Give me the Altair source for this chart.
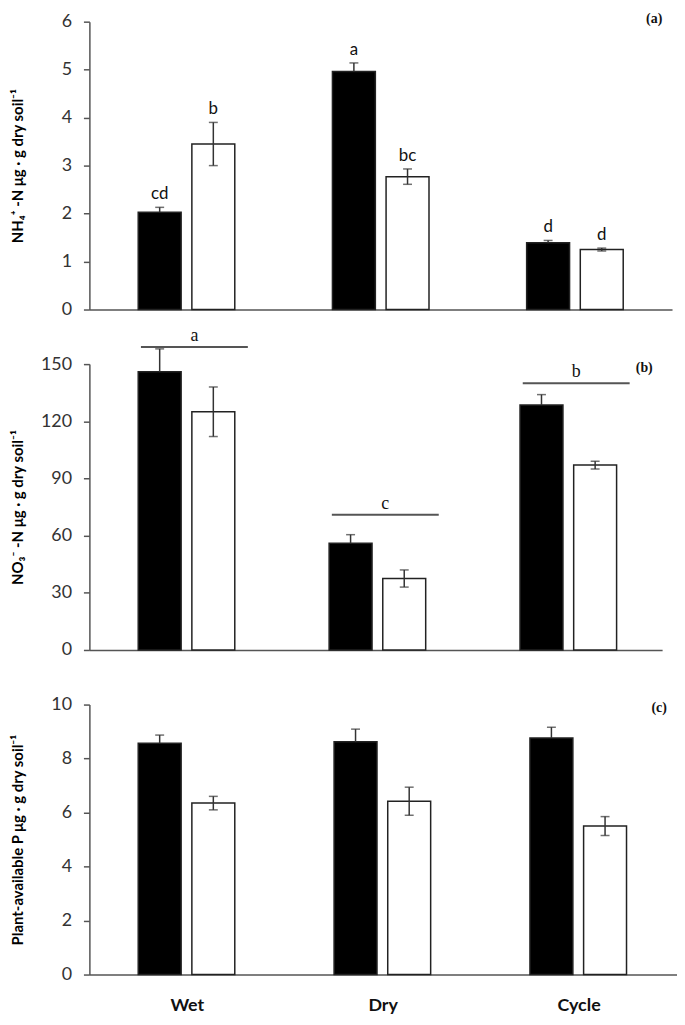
import altair as alt
import pandas as pd

groups = ["Wet", "Dry", "Cycle"]
series = ["Series 1", "Series 2"]

# Panel (a) NH4+-N
nh4_mean = [2.03, 3.45, 4.96, 2.77, 1.39, 1.25]
nh4_err = [0.10, 0.45, 0.18, 0.16, 0.05, 0.03]
nh4_letters = ["cd", "b", "a", "bc", "d", "d"]

# Panel (b) NO3--N
no3_mean = [146.0, 125.0, 56.0, 37.5, 128.5, 97.0]
no3_err = [12.0, 13.0, 4.5, 4.5, 5.5, 2.0]
no3_sig_letters = ["a", "c", "b"]
no3_sig_level = [159.0, 71.0, 140.0]

# Panel (c) plant-available P
p_mean = [8.57, 6.35, 8.62, 6.42, 8.76, 5.50]
p_err = [0.30, 0.25, 0.47, 0.52, 0.40, 0.35]

panel_labels = ["(a)", "(b)", "(c)"]
y_titles = ["NH₄⁺ -N μg · g dry soil⁻¹", "NO₃⁻ -N μg · g dry soil⁻¹",
            "Plant-available P μg · g dry soil⁻¹"]
y_ticks = [[0, 1, 2, 3, 4, 5, 6], [0, 30, 60, 90, 120, 150], [0, 2, 4, 6, 8, 10]]

row_group = [g for g in groups for _ in series]
row_series = series * len(groups)

AXIS_COLOR = "#555555"
LABEL_FONT = "Lato"


def make_df(means, errs, letters=None):
    d = pd.DataFrame({"group": row_group, "series": row_series,
                      "mean": means, "err": errs})
    d["lo"] = d["mean"] - d["err"]
    d["hi"] = d["mean"] + d["err"]
    if letters is not None:
        d["letter"] = letters
    return d


def panel(df, ymax, ticks, ytitle, width, height, label, label_y, show_x,
          letters=False, sig=None):
    xaxis = alt.Axis(title=None, labels=show_x, ticks=False, domainColor=AXIS_COLOR,
                     domainWidth=1.5, labelFont=LABEL_FONT, labelFontSize=18,
                     labelFontWeight="bold", labelColor="#111", labelPadding=22,
                     labelAngle=0)
    x = alt.X("group:N", sort=groups, axis=xaxis,
              scale=alt.Scale(paddingInner=0, paddingOuter=0))
    xo = alt.XOffset("series:N", sort=series,
                     scale=alt.Scale(paddingInner=0.2, paddingOuter=0.91))
    yaxis = alt.Axis(title=ytitle, values=ticks, grid=False, domainColor=AXIS_COLOR,
                     domainWidth=1.5, tickColor=AXIS_COLOR, tickWidth=1.5, tickSize=6,
                     labelFont=LABEL_FONT, labelFontSize=18, labelColor="#333",
                     labelPadding=12, titleFont=LABEL_FONT, titleFontSize=15,
                     titleFontWeight="bold", titleColor="#000",
                     titleX=-64, titleY=height / 2, titleBaseline="bottom",
                     titleAngle=-90, titleAlign="center")
    yscale = alt.Scale(domain=[0, ymax], nice=False)

    def Y(field):
        return alt.Y(field, scale=yscale, axis=yaxis)

    base = alt.Chart(df)
    open_only = base.transform_filter(alt.datum.series == series[1])
    bars = base.mark_bar(stroke="#222", strokeWidth=1.5).encode(
        x=x, xOffset=xo, y=Y("mean:Q"),
        fill=alt.Fill("series:N", sort=series,
                      scale=alt.Scale(domain=series, range=["#000000", "#ffffff"]),
                      legend=None))
    err_up = base.mark_rule(color="#333", strokeWidth=1.5).encode(
        x=x, xOffset=xo, y=Y("mean:Q"), y2="hi:Q")
    err_down = open_only.mark_rule(color="#333", strokeWidth=1.5).encode(
        x=x, xOffset=xo, y=Y("lo:Q"), y2="mean:Q")
    cap_hi = base.mark_tick(color="#333", thickness=1.5, size=9, orient="horizontal").encode(
        x=x, xOffset=xo, y=Y("hi:Q"))
    cap_lo = open_only.mark_tick(color="#333", thickness=1.5, size=9,
                                 orient="horizontal").encode(
        x=x, xOffset=xo, y=Y("lo:Q"))
    layers = [bars, err_up, err_down, cap_hi, cap_lo]
    if letters:
        layers.append(base.mark_text(font=LABEL_FONT, fontSize=17, color="#111",
                                     baseline="alphabetic", dy=-8).encode(
            x=x, xOffset=xo, y=Y("hi:Q"), text="letter:N"))
    if sig is not None:
        sdf = pd.DataFrame({"group": groups, "level": sig[1], "letter": sig[0]})
        sbase = alt.Chart(sdf)
        layers.append(sbase.mark_rule(color="#555", strokeWidth=2).encode(
            x=alt.X("group:N", sort=groups, bandPosition=0.27, axis=xaxis,
                    scale=alt.Scale(paddingInner=0, paddingOuter=0)),
            x2=alt.X2("group", bandPosition=0.83),
            y=Y("level:Q")))
        layers.append(sbase.mark_text(font="Liberation Serif", fontSize=18, color="#111",
                                      baseline="alphabetic", dy=-6).encode(
            x=alt.X("group:N", sort=groups, bandPosition=0.55, axis=xaxis,
                    scale=alt.Scale(paddingInner=0, paddingOuter=0)),
            y=Y("level:Q"), text="label:N" if False else "letter:N"))
    lab = alt.Chart(pd.DataFrame({"label": [label]})).mark_text(
        font="Liberation Serif", fontSize=14, fontWeight="bold", color="#111",
        align="center", baseline="middle").encode(
        x=alt.value(width - 18), y=alt.value(label_y), text="label:N")
    layers.append(lab)
    return alt.layer(*layers).properties(width=width, height=height)


pa = panel(make_df(nh4_mean, nh4_err, nh4_letters), 6, y_ticks[0], y_titles[0],
           587, 290, panel_labels[0], -3, False, letters=True)
pb = panel(make_df(no3_mean, no3_err), 150, y_ticks[1], y_titles[1],
           577, 288, panel_labels[1], 4, False, sig=(no3_sig_letters, no3_sig_level))
pc = panel(make_df(p_mean, p_err), 10, y_ticks[2], y_titles[2],
           592, 272, panel_labels[2], 3, True)

chart = alt.vconcat(pa, pb, pc, spacing=55, bounds="flush").properties(
    padding={"left": 2, "top": 0, "right": 0, "bottom": 0}
).configure_view(stroke=None)

chart.save("out.html", embed_options={"renderer": "svg", "actions": False})
